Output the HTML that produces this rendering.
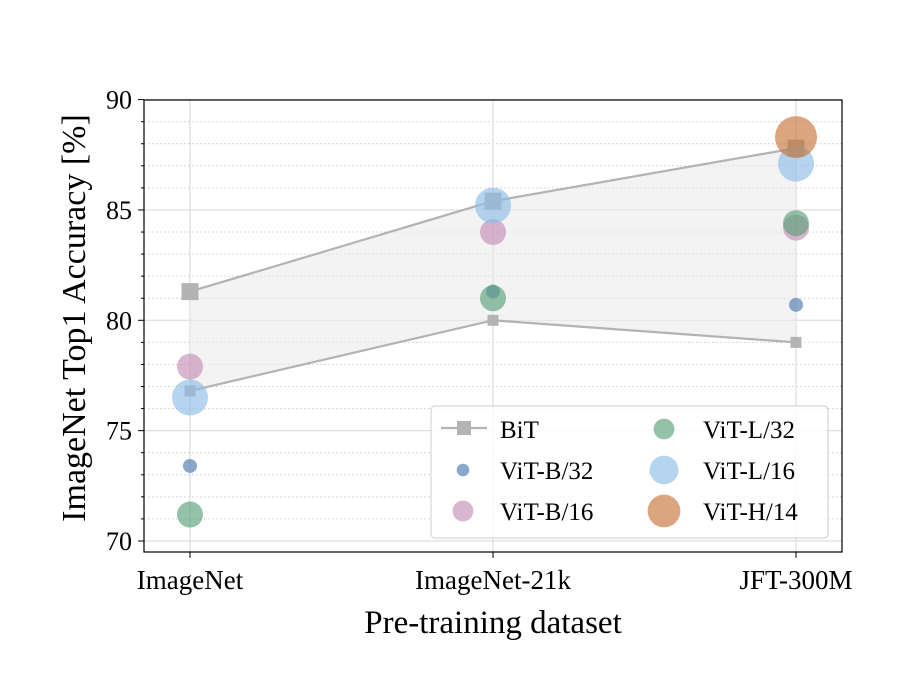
<!DOCTYPE html>
<html><head><meta charset="utf-8"><style>
body{margin:0;background:#fff;}
svg text{font-family:"Liberation Serif",serif;fill:#000;}
</style></head><body>
<svg id="chart" width="903" height="688" xmlns="http://www.w3.org/2000/svg">
<g id="grid"></g><g id="marks"></g><g id="axes"></g><g id="legend"></g>
</svg>
<script>
const categories=["ImageNet","ImageNet-21k","JFT-300M"];
const bitUpper=[81.3,85.4,87.8];
const bitLower=[76.8,80.0,79.0];
const vitB32=[73.4,81.3,80.7];
const vitB16=[77.9,84.0,84.2];
const vitL32=[71.2,81.0,84.4];
const vitL16=[76.5,85.2,87.1];
const vitH14=[null,null,88.3];
const yTicks=[70,75,80,85,90];
const NS="http://www.w3.org/2000/svg";
const L=144,R=842,T=100,B=552;
function xs(i){return 190+i*303;}
function ys(v){return 541-(v-70)*22.07;}
function mk(p,tag,a){const e=document.createElementNS(NS,tag);for(const k in a)e.setAttribute(k,a[k]);p.appendChild(e);return e;}
const grid=document.getElementById('grid'),marks=document.getElementById('marks'),axes=document.getElementById('axes'),leg=document.getElementById('legend');
for(let v=70;v<=89;v++){if(v%5)mk(grid,'line',{x1:L,x2:R,y1:ys(v),y2:ys(v),stroke:'#ccc','stroke-dasharray':'1.5,2.5','stroke-width':1});}
yTicks.forEach(v=>{const g=mk(grid,'line',{x1:L,x2:R,y1:ys(v),y2:ys(v),stroke:'#ddd','stroke-width':1.2});
});
categories.forEach((c,i)=>{mk(grid,'line',{x1:xs(i),x2:xs(i),y1:T,y2:B,stroke:'#ddd','stroke-width':1.2});});
let pts=bitUpper.map((v,i)=>xs(i)+','+ys(v)).concat(bitLower.map((v,i)=>[i,v]).reverse().map(([i,v])=>xs(i)+','+ys(v)));
const band=mk(marks,'polygon',{points:pts.join(' '),fill:'#ebebeb','fill-opacity':0.6});

[bitUpper,bitLower].forEach((arr,k)=>{
const pl=mk(marks,'polyline',{points:arr.map((v,i)=>xs(i)+','+ys(v)).join(' '),fill:'none',stroke:'#b3b3b3','stroke-width':2.2});

const s=k?11:17;
arr.forEach((v,i)=>{const r=mk(marks,'rect',{x:xs(i)-s/2,y:ys(v)-s/2,width:s,height:s,fill:'#b3b3b3'});
});});
const series=[["vit-b32",vitB32,7,'#4c78b0'],["vit-b16",vitB16,13,'#c48fb6'],["vit-l32",vitL32,13,'#5aa27a'],["vit-l16",vitL16,18,'#8dbde8'],["vit-h14",vitH14,21,'#c7773a']];
series.forEach(([n,arr,r,c])=>arr.forEach((v,i)=>{if(v==null)return;
const e=mk(marks,'circle',{cx:xs(i),cy:ys(v),r:r,fill:c,'fill-opacity':0.65});
}));
mk(axes,'rect',{x:L,y:T,width:R-L,height:B-T,fill:'none',stroke:'#000','stroke-width':1.2});
for(let v=70;v<=90;v++){mk(axes,'line',{x1:L-(v%5?3:6),x2:L,y1:ys(v),y2:ys(v),stroke:'#000'});}
yTicks.forEach(v=>{const t=mk(axes,'text',{x:L-12,y:ys(v)+9,'text-anchor':'end','font-size':26});t.textContent=v;
});
categories.forEach((c,i)=>{mk(axes,'line',{x1:xs(i),x2:xs(i),y1:B,y2:B+6,stroke:'#000'});
const t=mk(axes,'text',{x:xs(i),y:589,'text-anchor':'middle','font-size':27});t.textContent=c;
});
const xt=mk(axes,'text',{x:493,y:633,'text-anchor':'middle','font-size':33});xt.textContent='Pre-training dataset';

const yt=mk(axes,'text',{x:0,y:0,'text-anchor':'middle','font-size':34,transform:'translate(85,318) rotate(-90)'});yt.textContent='ImageNet Top1 Accuracy [%]';

const lb=mk(leg,'rect',{x:431,y:406,width:397,height:132,rx:4,fill:'#fff','fill-opacity':0.8,stroke:'#ccc'});

mk(leg,'line',{x1:441,x2:487,y1:428,y2:428,stroke:'#b3b3b3','stroke-width':2.2});
mk(leg,'rect',{x:457,y:421,width:14,height:14,fill:'#b3b3b3'});
const entries=[[500,429,'BiT',null],[500,470,'ViT-B/32',0],[500,511,'ViT-B/16',1],[703,429,'ViT-L/32',2],[703,470,'ViT-L/16',3],[703,511,'ViT-H/14',4]];
entries.forEach(([x,y,lbl,si])=>{
if(si!=null){const s=series[si];const cx=x<600?463:664;
mk(leg,'circle',{cx:cx,cy:y,r:s[2]*(si==4?0.78:si==3?0.8:si==0?0.9:0.8),fill:s[3],'fill-opacity':0.65});}
const t=mk(leg,'text',{x:x,y:y+9,'font-size':25});t.textContent=lbl;
});
</script>
</body></html>
